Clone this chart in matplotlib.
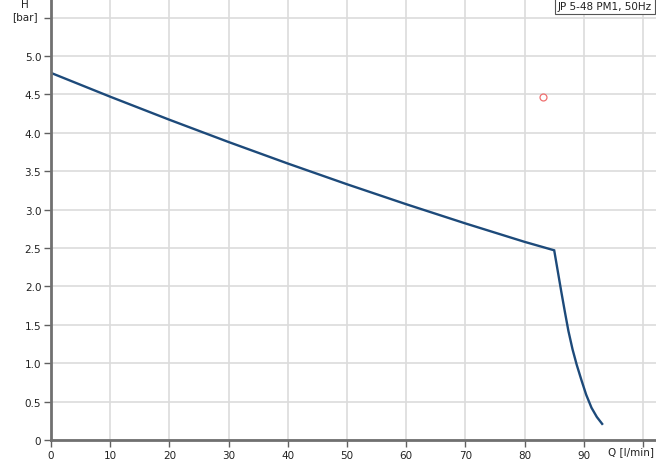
import matplotlib.pyplot as plt

# pump curve H(Q)
q = [0, 10, 20, 30, 40, 50, 60, 70, 80, 85.0, 85.6, 86.2, 86.8, 87.4, 88.1,
     88.8, 89.6, 90.4, 91.3, 92.2, 93.1]
h = [4.78, 4.47, 4.17, 3.88, 3.60, 3.33, 3.07, 2.82, 2.58, 2.47, 2.20, 1.93, 1.67, 1.42, 1.18,
     0.98, 0.78, 0.59, 0.42, 0.30, 0.21]

# duty point
duty_q = [83.1]
duty_h = [4.47]

x_ticks = [0, 10, 20, 30, 40, 50, 60, 70, 80, 90, 100]
x_labels = ["0", "10", "20", "30", "40", "50", "60", "70", "80", "90", ""]
y_ticks = [0, 0.5, 1.0, 1.5, 2.0, 2.5, 3.0, 3.5, 4.0, 4.5, 5.0, 5.5]
y_labels = ["0", "0.5", "1.0", "1.5", "2.0", "2.5", "3.0", "3.5", "4.0", "4.5", "5.0", ""]

legend_text = "JP 5-48 PM1, 50Hz"

W, H = 656, 460
fig = plt.figure(figsize=(W / 100, H / 100), dpi=100)
ax = fig.add_axes([51 / W, 19 / H, (W - 51) / W, (H - 19) / H])

ax.plot(q, h, color="#1d4a7a", linewidth=1.7, solid_joinstyle="miter")
ax.plot(duty_q, duty_h, "o", markerfacecolor="none", markeredgecolor="#f07070",
        markersize=5, markeredgewidth=0.9)

ax.set_xlim(0, (W - 51) / 5.92)
ax.set_ylim(0, 441 / 76.8)

ax.set_xticks(x_ticks)
ax.set_xticklabels(x_labels)
ax.set_yticks(y_ticks)
ax.set_yticklabels(y_labels)
ax.tick_params(axis="both", direction="out", length=5, width=1, color="#606060",
               labelsize=7.5, labelcolor="#222222", pad=2)

ax.grid(True, color="#dcdcdc", linewidth=1.2)
ax.set_axisbelow(True)

for side in ["top", "right"]:
    ax.spines[side].set_visible(False)
for side in ["left", "bottom"]:
    ax.spines[side].set_color("#707070")
    ax.spines[side].set_linewidth(2)

# axis titles sit where the last tick labels would be
fig.text(654 / W, 1 - 452 / H, "Q [l/min]", ha="right", va="center", fontsize=7.5, color="#222222")
fig.text(25 / W, 1 - 5 / H, "H", ha="center", va="center", fontsize=7.5, color="#222222")
fig.text(25 / W, 1 - 17 / H, "[bar]", ha="center", va="center", fontsize=7.5, color="#222222")

fig.text(652 / W, 1 - 7 / H, legend_text, ha="right", va="center", fontsize=7.5, color="#222222",
         bbox=dict(boxstyle="square,pad=0.3", facecolor="white", edgecolor="#555555", linewidth=0.8))

fig.savefig("out.png", dpi=100)
